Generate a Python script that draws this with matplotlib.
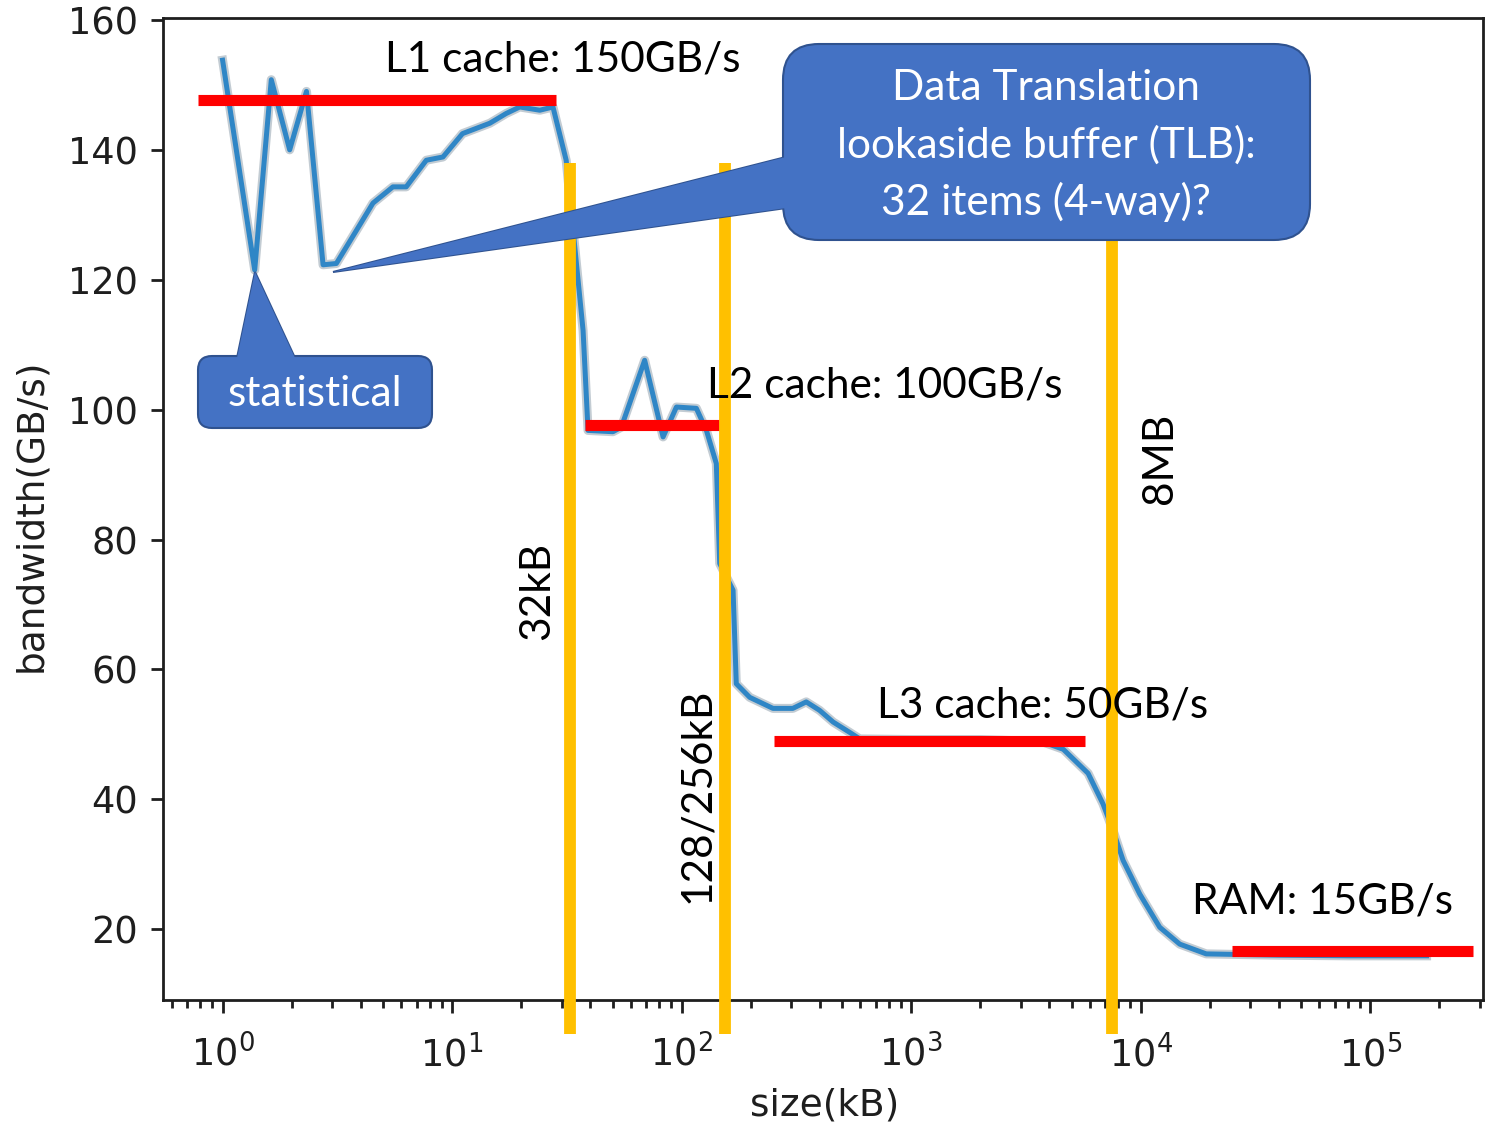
import matplotlib.pyplot as plt
import matplotlib.patheffects as pe
from matplotlib.patches import FancyBboxPatch, Polygon
from matplotlib.transforms import Affine2D

# measured bandwidth against working set size
size_kb = [1.0, 1.38, 1.63, 1.96, 2.32, 2.74, 3.13, 3.83, 4.52, 5.52, 6.31, 7.72,
           9.12, 11.1, 14.6, 17.2, 19.7, 24.1, 27.5, 31.4, 37.2, 39.1, 50.2, 54.6,
           69.0, 83.0, 94.9, 115.9, 128.2, 141.6, 146.5, 167.5, 173, 198, 250, 305,
           349, 399, 457, 540, 597, 1000, 2000, 3700, 4600, 5900, 6850, 7580, 8380,
           9910, 12100, 14800, 19300, 40000, 80000, 176000]
bandwidth = [153.8, 121.5, 150.8, 140.0, 149.0, 122.3, 122.5, 127.6, 131.8, 134.3, 134.3, 138.4,
             138.9, 142.5, 144.1, 145.6, 146.6, 146.1, 146.6, 138.4, 112.2, 96.8, 96.6, 97.3,
             107.6, 95.8, 100.4, 100.2, 96.8, 91.7, 76.3, 72.2, 57.8, 55.7, 54.0, 54.0,
             55.0, 53.7, 51.9, 50.3, 49.3, 49.2, 49.2, 48.9, 47.7, 44.0, 39.3, 35.2, 30.6,
             25.4, 20.3, 17.7, 16.2, 16.0, 15.9, 15.9]

# memory levels (plateaus)
level_names = ['L1 cache: 150GB/s', 'L2 cache: 100GB/s', 'L3 cache: 50GB/s', 'RAM: 15GB/s']
level_bw = [147.7, 97.6, 49.0, 16.7]
level_from = [0.78, 37.8, 252, 24900]
level_to = [28.3, 146.5, 5700, 280000]

# cache sizes
boundary_names = ['32kB', '128/256kB', '8MB']
boundary_kb = [32.5, 155, 7500]

W, H = 1498, 1124
fig = plt.figure(figsize=(W / 100, H / 100), dpi=100)
ax = fig.add_axes([163 / W, 1 - 1000 / H, (1483 - 163) / W, (1000 - 18) / H])
# pixel coordinates, origin top left
pix = Affine2D().scale(0.01, -0.01).translate(0, H * 0.01) + fig.dpi_scale_trans

ax.plot(size_kb, bandwidth, color='#2f86c6', lw=3.6, zorder=3,
        path_effects=[pe.Stroke(linewidth=6.5, foreground='#c3ccd3'), pe.Normal()])
ax.set_xscale('log')
ax.set_xlim(0.55, 3.1e5)
ax.set_ylim(9.1, 160.3)
ax.set_yticks(range(20, 161, 20))

axcol = '#1e1e1e'
for s in ax.spines.values():
    s.set_color(axcol)
    s.set_linewidth(2)
ax.tick_params(which='both', direction='out', colors=axcol, width=2, labelsize=26.5)
ax.tick_params(axis='y', pad=9)
ax.tick_params(axis='x', pad=16)
ax.tick_params(which='major', length=9)
ax.tick_params(which='minor', length=6)
ax.set_xlabel('size(kB)', fontsize=27, color=axcol)
ax.set_ylabel('bandwidth(GB/s)', fontsize=27, color=axcol)
ax.xaxis.set_label_coords(0.5015, -0.089)
ax.yaxis.set_label_coords(-0.086, 0.494)

# red plateau markers
ax.hlines(level_bw, level_from, level_to, colors='#ff0000', lw=8, zorder=4, clip_on=False)
# yellow cache size markers
ax.vlines(boundary_kb, 3.9, 138, colors='#ffc000', lw=8.5, zorder=5, clip_on=False)

font = 'Lato'
fs = 30.5
level_pos = [(385, 72), (707, 398), (877, 718), (1192, 913)]
for name, (x, y) in zip(level_names, level_pos):
    fig.text(x, y, name, transform=pix, fontsize=fs, family=font, va='baseline', ha='left')

boundary_pos = [(537, 591), (697, 795), (1160, 458)]
for name, (x, y) in zip(boundary_names, boundary_pos):
    fig.text(x, y, name, transform=pix, fontsize=fs, family=font, rotation=90,
             ha='center', va='center')

# callouts
fill, edge = '#4472c4', '#2f528f'


def callout(box, tri, radius):
    x0, y0, x1, y1 = box
    t1 = Polygon(tri, closed=True, transform=pix, fc=fill, ec=edge, lw=1.5)
    b = FancyBboxPatch((x0, y0), x1 - x0, y1 - y0, transform=pix, fc=fill, ec=edge, lw=1.5,
                       boxstyle='round,pad=0,rounding_size=%d' % radius)
    t2 = Polygon(tri, closed=True, transform=pix, fc=fill, ec='none')
    for a in (t1, b, t2):
        fig.add_artist(a)


callout((198, 356, 432, 428), [(255, 272), (237, 358), (295, 358)], 14)
fig.text(315, 394, 'statistical', transform=pix, fontsize=fs, family=font, color='white',
         ha='center', va='center')

callout((783, 44, 1310, 240), [(333, 272), (786, 157), (786, 208)], 36)
tlb_lines = ['Data Translation', 'lookaside buffer (TLB):', '32 items (4-way)?']
for i, line in enumerate(tlb_lines):
    fig.text(1046, 88 + 57 * i, line, transform=pix, fontsize=fs, family=font, color='white',
             ha='center', va='center')

fig.savefig('out.png', dpi=100)
